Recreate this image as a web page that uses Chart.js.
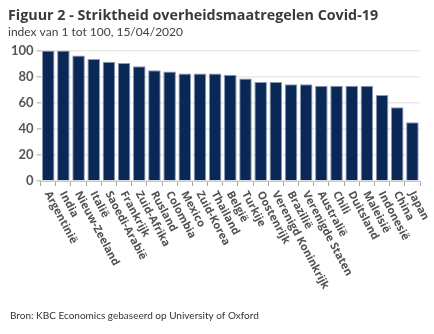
<!DOCTYPE html>
<html>
<head>
<meta charset="utf-8">
<script src="https://cdn.jsdelivr.net/npm/chart.js@4.4.1/dist/chart.umd.min.js"></script>
<style>
  html, body { margin: 0; padding: 0; background: #ffffff; }
  #wrap { position: relative; width: 434px; height: 334px; }
</style>
</head>
<body>
<div id="wrap"><canvas id="chart" width="434" height="334"></canvas></div>
<script>
// Stringency index per country, 15/04/2020 (scale 1-100)
const countries = [
  'Argentinië', 'India', 'Nieuw-Zeeland', 'Italië', 'Saoedi-Arabië', 'Frankrijk',
  'Zuid-Afrika', 'Rusland', 'Colombia', 'Mexico', 'Zuid-Korea', 'Thailand',
  'België', 'Turkije', 'Oostenrijk', 'Verenigd Koninkrijk', 'Brazilië',
  'Verenigde Staten', 'Australië', 'Chili', 'Duitsland', 'Maleisië',
  'Indonesië', 'China', 'Japan'
];
const stringency = [
  100, 100, 96.3, 93.5, 91.5, 90.5,
  88.0, 85.0, 84.0, 82.4, 82.4, 82.4,
  81.5, 78.5, 75.9, 75.9, 74.1,
  74.1, 73.0, 73.0, 73.0, 73.0,
  66.0, 56.5, 45.0
];
const yTicks = [0, 20, 40, 60, 80, 100];

const titleText = 'Figuur 2 - Striktheid overheidsmaatregelen Covid-19';
const subtitleText = 'index van 1 tot 100, 15/04/2020';
const sourceText = 'Bron: KBC Economics gebaseerd op University of Oxford';

const FONT = '"Open Sans", "Noto Sans", "DejaVu Sans", sans-serif';
const FONT_NARROW = 'Lato, "Open Sans", sans-serif';

// Slanted category labels (start at the tick, running down to the right)
const slantedLabels = {
  id: 'slantedLabels',
  afterDraw(chart) {
    const { ctx, chartArea } = chart;
    const xs = chart.scales.x;
    ctx.save();
    ctx.font = 'bold 11px ' + FONT;
    ctx.fillStyle = '#525252';
    ctx.textAlign = 'left';
    ctx.textBaseline = 'middle';
    const angle = 62 * Math.PI / 180;
    chart.data.labels.forEach((lab, i) => {
      const x = xs.getPixelForValue(i);
      ctx.save();
      ctx.translate(x - 1, chartArea.bottom + 11);
      ctx.rotate(angle);
      ctx.fillText(lab, 0, 0);
      ctx.restore();
    });
    // source line
    ctx.font = '10px ' + FONT_NARROW;
    ctx.fillStyle = '#333333';
    ctx.fillText(sourceText, 10, 316);
    ctx.restore();
  }
};

new Chart(document.getElementById('chart'), {
  type: 'bar',
  data: {
    labels: countries,
    datasets: [{
      data: stringency,
      backgroundColor: '#0a2856',
      borderColor: '#8d9bb2',
      borderWidth: 1,
      barPercentage: 0.83,
      categoryPercentage: 1.0
    }]
  },
  options: {
    responsive: false,
    animation: false,
    layout: { padding: { left: 8, right: 14, top: 0, bottom: 148 } },
    plugins: {
      legend: { display: false },
      tooltip: { enabled: false },
      title: {
        display: true,
        text: titleText,
        align: 'start',
        color: '#3a3a3a',
        font: { family: FONT, size: 14.3, weight: 'bold', lineHeight: 1.2 },
        padding: { top: 7, bottom: 1 }
      },
      subtitle: {
        display: true,
        text: subtitleText,
        align: 'start',
        color: '#404040',
        font: { family: FONT_NARROW, size: 12, lineHeight: 1.2 },
        padding: { top: 0, bottom: 11 }
      }
    },
    scales: {
      x: {
        grid: {
          offset: true,
          drawOnChartArea: false,
          drawTicks: true,
          tickLength: 5,
          tickColor: '#a6a6a6'
        },
        border: { display: true, color: '#c8c8c8' },
        ticks: { display: false }
      },
      y: {
        min: 0,
        max: 100,
        ticks: {
          stepSize: 10,
          padding: 3,
          color: '#555555',
          font: { family: FONT_NARROW, size: 13, weight: 'bold' },
          callback: (v) => (yTicks.includes(v) ? String(v) : '')
        },
        grid: {
          color: '#e9e9e9',
          lineWidth: 1.5,
          tickLength: 4,
          tickColor: '#c4c4c4'
        },
        border: { display: false }
      }
    }
  },
  plugins: [slantedLabels]
});
</script>
</body>
</html>
